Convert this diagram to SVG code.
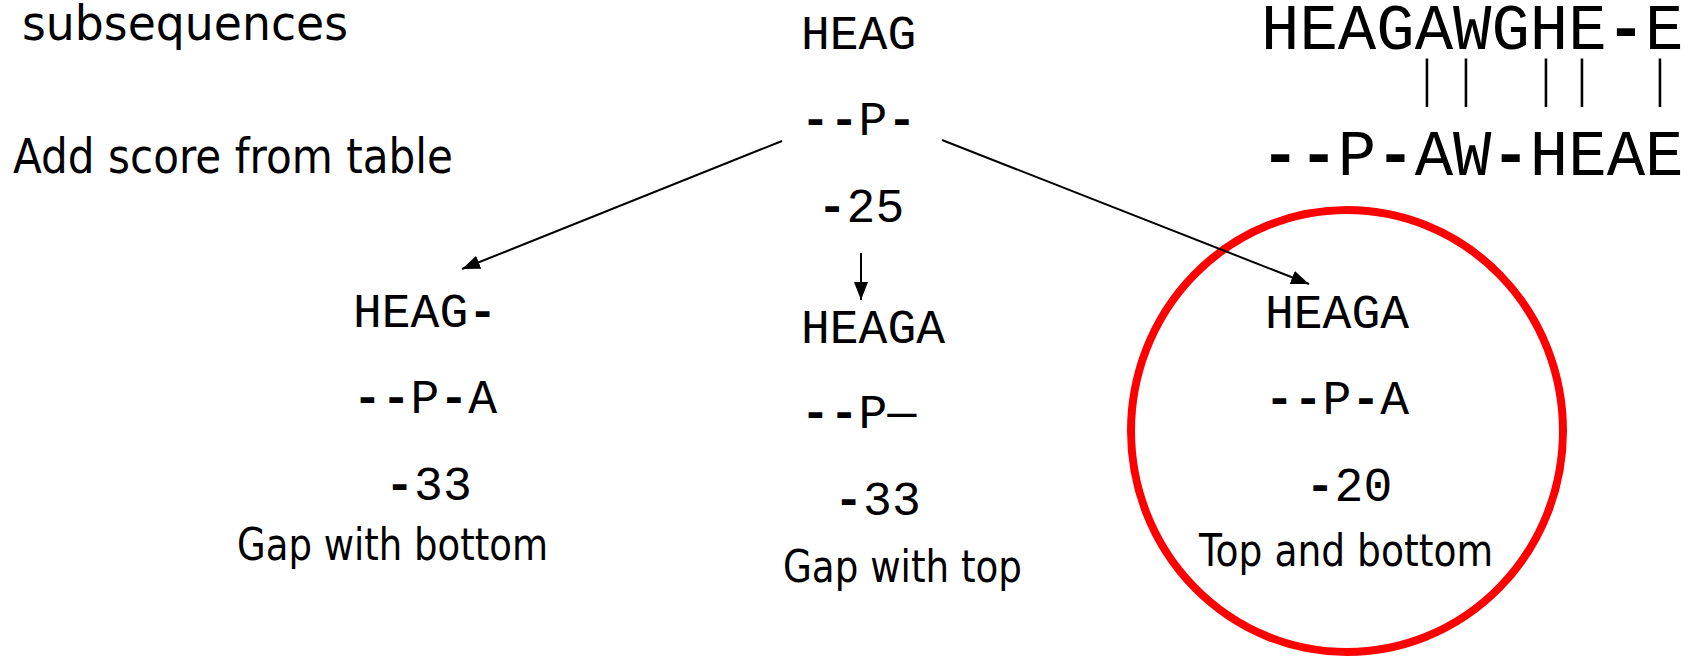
<svg xmlns="http://www.w3.org/2000/svg" width="1698" height="658" viewBox="0 0 1698 658">
  <style>
    .sans { font-family: "DejaVu Sans", "Liberation Sans", sans-serif; fill: #000; }
    .mono { font-family: "Liberation Mono", "DejaVu Sans Mono", monospace; font-size: 48px; fill: #000; }
    .big { font-family: "Liberation Mono", "DejaVu Sans Mono", monospace; font-size: 64px; fill: #000; }
    .bar { font-family: "Liberation Serif", "DejaVu Serif", serif; font-size: 52px; fill: #000; }
    .d { font-weight: bold; }
    .edge { stroke: #000; stroke-width: 2; fill: none; marker-end: url(#head); }
  </style>
  <defs>
    <marker id="head" markerUnits="userSpaceOnUse" markerWidth="18" markerHeight="14" refX="18" refY="7" orient="auto">
      <path d="M0,0 L18,7 L0,14 z" fill="#000"/>
    </marker>
  </defs>
  <rect width="1698" height="658" fill="#fff"/>

  <!-- side notes -->
  <g id="notes">
    <text class="sans" x="22" y="40" font-size="48" textLength="326" lengthAdjust="spacingAndGlyphs">subsequences</text>
    <text class="sans" x="13" y="173" font-size="48" textLength="440" lengthAdjust="spacingAndGlyphs">Add score from table</text>
  </g>

  <!-- full alignment with match bars -->
  <g id="alignment">
    <text class="big" x="1261" y="49">HEAGAWGHE<tspan class="d">-</tspan>E</text>
    <text class="bar" x="1427 1466 1546 1582 1660" y="96" text-anchor="middle">|||||</text>
    <text class="big" x="1261" y="175"><tspan class="d">--</tspan>P<tspan class="d">-</tspan>AW<tspan class="d">-</tspan>HEAE</text>
  </g>

  <!-- start cell -->
  <g id="node-start">
    <text class="mono" x="801" y="49">HEAG</text>
    <text class="mono" x="801" y="135"><tspan class="d">--</tspan>P<tspan class="d">-</tspan></text>
    <text class="mono" x="861" y="222" text-anchor="middle"><tspan class="d">-</tspan>25</text>
  </g>

  <!-- gap with bottom -->
  <g id="node-gap-bottom">
    <text class="mono" x="353" y="327">HEAG<tspan class="d">-</tspan></text>
    <text class="mono" x="353" y="413"><tspan class="d">--</tspan>P<tspan class="d">-</tspan>A</text>
    <text class="mono" x="428.5" y="500" text-anchor="middle"><tspan class="d">-</tspan>33</text>
    <text class="sans" x="392.5" y="560" font-size="44" text-anchor="middle" textLength="311" lengthAdjust="spacingAndGlyphs">Gap with bottom</text>
  </g>

  <!-- gap with top -->
  <g id="node-gap-top">
    <text class="mono" x="801" y="343">HEAGA</text>
    <text class="mono" x="801" y="428"><tspan class="d">--</tspan>P—</text>
    <text class="mono" x="877.5" y="515" text-anchor="middle"><tspan class="d">-</tspan>33</text>
    <text class="sans" x="902.5" y="582" font-size="44" text-anchor="middle" textLength="239" lengthAdjust="spacingAndGlyphs">Gap with top</text>
  </g>

  <!-- top and bottom (best) -->
  <g id="node-top-bottom">
    <ellipse cx="1347" cy="431" rx="216" ry="221" fill="none" stroke="#ff0000" stroke-width="8"/>
    <text class="mono" x="1265" y="328">HEAGA</text>
    <text class="mono" x="1265" y="414"><tspan class="d">--</tspan>P<tspan class="d">-</tspan>A</text>
    <text class="mono" x="1349" y="501" text-anchor="middle"><tspan class="d">-</tspan>20</text>
    <text class="sans" x="1346" y="566" font-size="44" text-anchor="middle" textLength="294" lengthAdjust="spacingAndGlyphs">Top and bottom</text>
  </g>

  <!-- connectors -->
  <g id="connectors">
    <line class="edge" x1="782" y1="141" x2="462" y2="269"/>
    <line class="edge" x1="861" y1="253" x2="861" y2="300"/>
    <line class="edge" x1="942" y1="140" x2="1309" y2="284"/>
  </g>
</svg>
